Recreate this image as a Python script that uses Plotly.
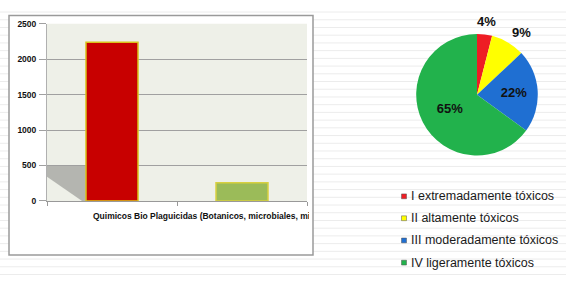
import plotly.graph_objects as go

W, H = 566, 285

# ---- data ----
bar_categories = ["Quimicos", "Bio Plaguicidas (Botanicos, microbiales, misceláneos)"]
bar_values = [2240, 255]
bar_colors = ["#C80000", "#9BBB59"]
bar_edge_colors = ["#D9C21A", "#D8D040"]
y_ticks = [0, 500, 1000, 1500, 2000, 2500]

pie_labels = ["I extremadamente tóxicos", "II altamente tóxicos",
              "III moderadamente tóxicos", "IV ligeramente tóxicos"]
pie_values = [4, 9, 22, 65]
pie_colors = ["#EE1D24", "#FFFF00", "#1F6FD2", "#22B24C"]
pie_text_pos = ["none", "none", "inside", "inside"]


def px(x):
    return x / W


def py(y):
    return 1 - y / H


FONT = "Liberation Sans, Arial, sans-serif"

# plot area in pixels
PL, PR, PT, PB = 47, 307, 19.5, 203

fig = go.Figure()

fig.add_trace(go.Bar(
    x=bar_categories, y=bar_values, width=0.4,
    marker=dict(color=bar_colors, line=dict(color=bar_edge_colors, width=1.5)),
    showlegend=False, hoverinfo="x+y",
))

fig.add_trace(go.Pie(
    labels=pie_labels, values=pie_values, sort=False, direction="clockwise",
    rotation=0, marker=dict(colors=pie_colors, line=dict(width=0)),
    textinfo="percent", textposition=pie_text_pos,
    insidetextorientation="horizontal",
    textfont=dict(family=FONT, size=13, color="#111111", weight="bold"),
    showlegend=False,
    domain=dict(x=[px(477 - 63), px(477 + 63)], y=[py(93 + 63), py(93 - 63)]),
))

shapes = []
# faint lined background
yy = 7.3
while yy < H:
    shapes.append(dict(type="line", xref="paper", yref="paper", x0=0, x1=1,
                       y0=py(yy), y1=py(yy), line=dict(color="#ECECEC", width=1),
                       layer="below"))
    yy += 8
# bar chart frame
shapes.append(dict(type="rect", xref="paper", yref="paper", x0=px(9), x1=px(313),
                   y0=py(259), y1=py(11), fillcolor="white",
                   line=dict(color="#9A9A9A", width=1.5), layer="below"))
# plot area background
shapes.append(dict(type="rect", xref="paper", yref="paper", x0=px(PL), x1=px(PR),
                   y0=py(PB), y1=py(PT), fillcolor="#EEF0E8",
                   line=dict(width=0), layer="below"))
# 3D floor shadow
shapes.append(dict(type="path", xref="x domain", yref="y",
                   path="M 0 500 L 0.15 500 L 0.15 0 L 0.135 0 L 0 340 Z",
                   fillcolor="rgba(160,162,158,0.75)", line=dict(width=0),
                   layer="below"))

annotations = []
# x category labels
annotations.append(dict(xref="x", yref="paper", x=bar_categories[0], y=py(219),
                        text=bar_categories[0], showarrow=False, xanchor="center",
                        yanchor="middle",
                        font=dict(family=FONT, size=8.5, color="#111", weight="bold")))
annotations.append(dict(xref="paper", yref="paper", x=px(132), y=py(219),
                        text=bar_categories[1], showarrow=False, xanchor="left",
                        yanchor="middle", width=PR - 132, align="left",
                        font=dict(family=FONT, size=8.5, color="#111", weight="bold")))

# outside percentage labels for the two small slices
small_label_pos = [(486, 17), (521, 28.5)]
total = sum(pie_values)
for v, (lx, ly) in zip(pie_values[:2], small_label_pos):
    annotations.append(dict(xref="paper", yref="paper", x=px(lx), y=py(ly),
                            text=f"{round(100 * v / total)}%", showarrow=False,
                            xanchor="center", yanchor="middle",
                            font=dict(family=FONT, size=13, color="#111",
                                      weight="bold")))

# manual legend
legend_rows = [198.3, 221, 244, 267]
for lab, col, cy in zip(pie_labels, pie_colors, legend_rows):
    shapes.append(dict(type="rect", xref="paper", yref="paper",
                       x0=px(401.5), x1=px(406.5), y0=py(cy + 2.5), y1=py(cy - 2.5),
                       fillcolor=col, line=dict(color="#555555", width=0.5)))
    annotations.append(dict(xref="paper", yref="paper", x=px(408.5), y=py(cy),
                            text=lab, showarrow=False, xanchor="left",
                            yanchor="middle",
                            font=dict(family=FONT, size=12.5, color="#1A1A1A")))

fig.update_layout(
    width=W, height=H, margin=dict(l=0, r=0, t=0, b=0),
    paper_bgcolor="white", plot_bgcolor="rgba(0,0,0,0)",
    shapes=shapes, annotations=annotations,
    xaxis=dict(domain=[px(PL), px(PR)], showticklabels=False, ticks="outside",
               tickson="boundaries", ticklen=4, tickcolor="#999999",
               showline=True, linecolor="#999999", linewidth=1, showgrid=False),
    yaxis=dict(domain=[py(PB), py(PT)], range=[0, 2500], tickvals=y_ticks,
               showgrid=True, gridcolor="#A0A0A0", gridwidth=1,
               zeroline=False, showline=True, linecolor="#B0B0B0",
               ticks="outside", ticklen=7, tickcolor="#A0A0A0",
               ticklabelstandoff=1,
               tickfont=dict(family=FONT, size=8.5, color="#111", weight="bold")),
    bargap=0.6,
)

fig.write_html("out.html")
